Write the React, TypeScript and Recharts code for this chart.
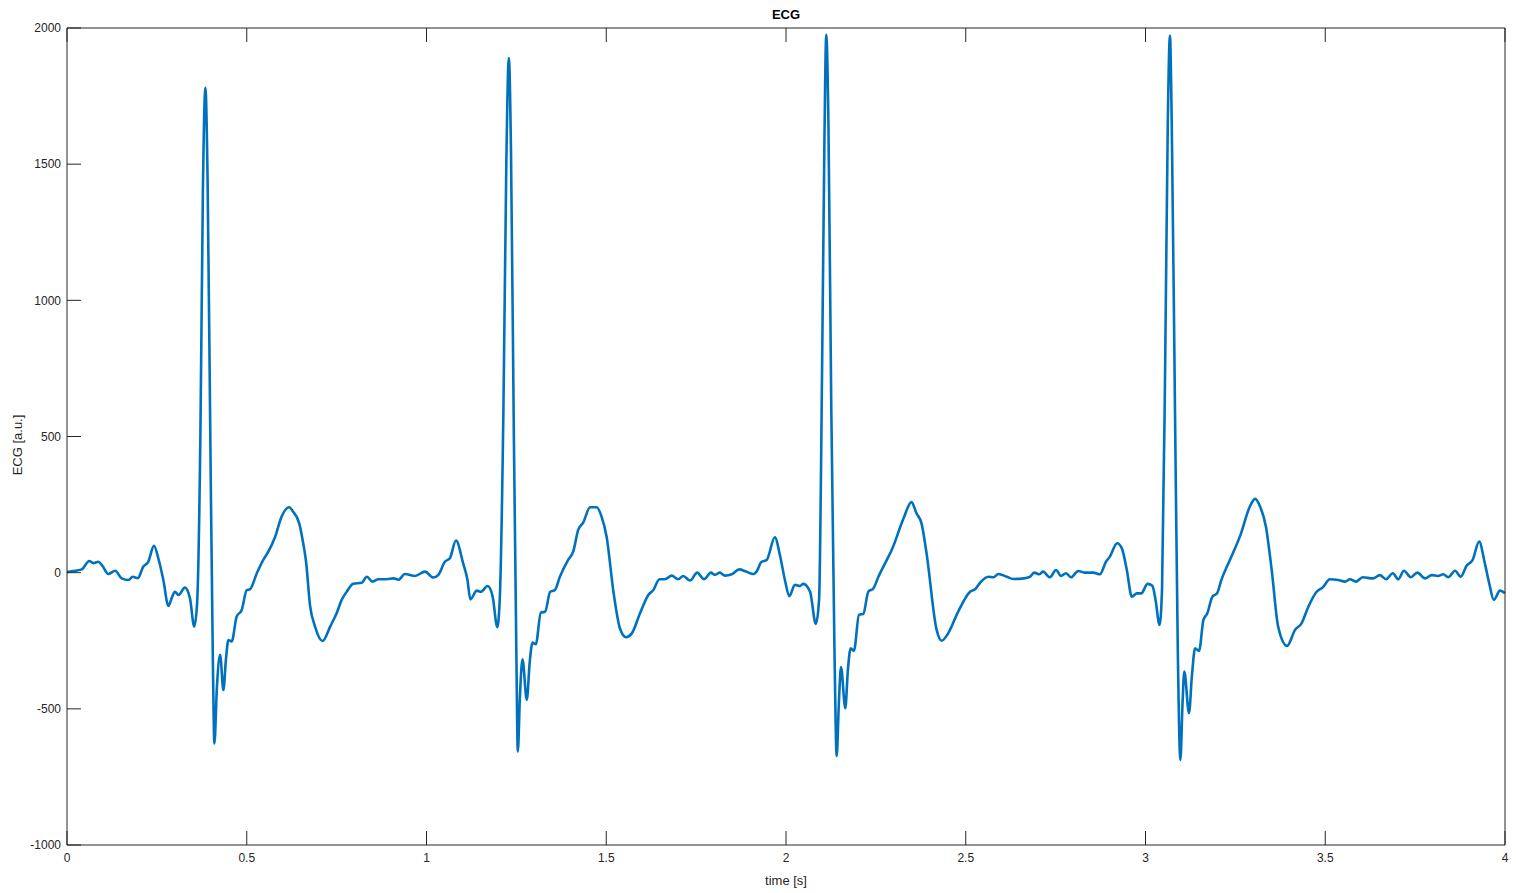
import React from 'react';
import { LineChart, Line, XAxis, YAxis } from 'recharts';

document.body.style.margin = '0';

// samples: time [s] and ECG [a.u.]
const timeS = [
  0, 0.022, 0.041, 0.062, 0.073, 0.087, 0.097, 0.115, 0.134, 0.152,
  0.171, 0.183, 0.197, 0.212, 0.226, 0.242, 0.254, 0.268, 0.282, 0.291,
  0.300, 0.310, 0.328, 0.342, 0.354, 0.362, 0.371, 0.378, 0.385, 0.391,
  0.399, 0.406, 0.410, 0.417, 0.426, 0.435, 0.442, 0.449, 0.458, 0.472,
  0.486, 0.500, 0.509, 0.528, 0.546, 0.560, 0.579, 0.597, 0.618, 0.629,
  0.646, 0.657, 0.665, 0.676, 0.690, 0.711, 0.732, 0.750, 0.764, 0.778,
  0.796, 0.820, 0.834, 0.850, 0.866, 0.889, 0.908, 0.922, 0.940, 0.968,
  0.996, 1.019, 1.033, 1.051, 1.065, 1.082, 1.102, 1.114, 1.122, 1.140,
  1.151, 1.170, 1.184, 1.197, 1.204, 1.214, 1.222, 1.229, 1.235, 1.243,
  1.250, 1.254, 1.260, 1.267, 1.279, 1.287, 1.295, 1.304, 1.318, 1.330,
  1.344, 1.357, 1.371, 1.394, 1.408, 1.422, 1.436, 1.455, 1.473, 1.487,
  1.501, 1.520, 1.538, 1.555, 1.571, 1.594, 1.617, 1.631, 1.648, 1.663,
  1.682, 1.700, 1.714, 1.733, 1.753, 1.772, 1.791, 1.802, 1.816, 1.830,
  1.849, 1.870, 1.889, 1.909, 1.918, 1.932, 1.946, 1.969, 1.983, 1.997,
  2.009, 2.025, 2.039, 2.048, 2.067, 2.083, 2.092, 2.100, 2.107, 2.112,
  2.118, 2.126, 2.135, 2.141, 2.147, 2.153, 2.165, 2.172, 2.180, 2.189,
  2.203, 2.215, 2.229, 2.243, 2.257, 2.285, 2.294, 2.326, 2.349, 2.363,
  2.377, 2.391, 2.419, 2.433, 2.451, 2.479, 2.512, 2.526, 2.540, 2.563,
  2.577, 2.591, 2.614, 2.632, 2.656, 2.679, 2.690, 2.705, 2.715, 2.734,
  2.751, 2.765, 2.779, 2.793, 2.813, 2.832, 2.855, 2.873, 2.890, 2.901,
  2.921, 2.934, 2.948, 2.962, 2.976, 2.988, 3.006, 3.019, 3.028, 3.039,
  3.046, 3.055, 3.062, 3.068, 3.073, 3.082, 3.090, 3.097, 3.103, 3.108,
  3.121, 3.129, 3.138, 3.149, 3.161, 3.172, 3.186, 3.199, 3.211, 3.239,
  3.264, 3.290, 3.305, 3.319, 3.335, 3.351, 3.369, 3.394, 3.416, 3.434,
  3.453, 3.476, 3.493, 3.513, 3.536, 3.555, 3.569, 3.585, 3.604, 3.633,
  3.652, 3.669, 3.688, 3.703, 3.719, 3.738, 3.756, 3.778, 3.796, 3.814,
  3.828, 3.842, 3.861, 3.877, 3.893, 3.910, 3.928, 3.944, 3.956, 3.969,
  3.986, 4.000,
];

const ecgAU = [
  2, 7, 12, 43, 35, 40, 28, -5, 7, -21,
  -27, -15, -20, 22, 40, 99, 53, -27, -122, -94,
  -70, -82, -55, -94, -198, -110, 500, 1400, 1780, 1450,
  450, -350, -627, -420, -302, -431, -320, -247, -253, -161,
  -137, -64, -61, -2, 47, 77, 132, 206, 240, 224,
  181, 108, 40, -120, -198, -251, -198, -149, -100, -70,
  -41, -37, -15, -33, -24, -24, -21, -26, -5, -12,
  4, -18, -8, 40, 53, 118, 34, -27, -98, -66,
  -70, -49, -88, -200, -90, 600, 1500, 1890, 1550, 500,
  -300, -657, -450, -318, -467, -330, -257, -263, -147, -143,
  -70, -64, -15, 47, 77, 157, 184, 240, 240, 206,
  132, -70, -204, -237, -223, -149, -82, -64, -24, -24,
  -11, -24, -12, -29, 0, -24, 0, -8, 0, -11,
  -6, 12, 4, -5, 4, 40, 46, 130, 65, -27,
  -86, -45, -49, -41, -70, -188, -100, 700, 1600, 1975,
  1650, 600, -300, -673, -480, -347, -498, -360, -278, -287,
  -155, -151, -70, -58, -15, 59, 83, 196, 259, 218,
  181, 71, -210, -250, -223, -143, -70, -61, -37, -15,
  -17, -5, -15, -23, -22, -15, 0, -6, 4, -17,
  10, -12, -2, -17, 6, 0, 0, -6, 40, 59,
  108, 90, 10, -88, -76, -76, -41, -48, -100, -192,
  -60, 800, 1650, 1972, 1650, 600, -300, -688, -480, -363,
  -516, -380, -278, -287, -174, -149, -88, -76, -27, 59,
  138, 242, 271, 242, 169, 10, -198, -269, -210, -186,
  -125, -70, -54, -24, -27, -33, -24, -33, -17, -21,
  -9, -24, -2, -24, 7, -17, 0, -21, -9, -12,
  -6, -17, 7, -15, 25, 47, 114, 34, -39, -100,
  -66, -76,
];

const xTicks = [0, 0.5, 1, 1.5, 2, 2.5, 3, 3.5, 4];
const yTicks = [-1000, -500, 0, 500, 1000, 1500, 2000];

const data = timeS.map((t, i) => ({ t, ecg: ecgAU[i] }));

const AXIS = '#262626';
const TICK_LEN = 14;
const GAP_X = 8;
const GAP_Y = 6;
const FONT = '"Liberation Sans", Arial, Helvetica, sans-serif';

// matlab style: tick marks point into the box, labels outside
const BottomTick = ({ x, y, payload }: any) => (
  <g>
    <line x1={x} x2={x} y1={y - GAP_X} y2={y - GAP_X - TICK_LEN} stroke={AXIS} />
    <text x={x} y={y} dy="0.71em" textAnchor="middle" fill={AXIS} fontSize={12} fontFamily={FONT}>
      {payload.value}
    </text>
  </g>
);

const LeftTick = ({ x, y, payload }: any) => (
  <g>
    <line x1={x + GAP_Y} x2={x + GAP_Y + TICK_LEN} y1={y} y2={y} stroke={AXIS} />
    <text x={x} y={y} dy="0.355em" textAnchor="end" fill={AXIS} fontSize={12} fontFamily={FONT}>
      {payload.value}
    </text>
  </g>
);

const TopTick = ({ x, y }: any) => <line x1={x} x2={x} y1={y} y2={y + TICK_LEN} stroke={AXIS} />;
const RightTick = ({ x, y }: any) => <line x1={x} x2={x - TICK_LEN} y1={y} y2={y} stroke={AXIS} />;

export default function App() {
  return (
    <div style={{ position: 'relative', width: 1516, height: 893, background: '#fff', fontFamily: FONT }}>
      <LineChart width={1516} height={893} data={data} margin={{ top: 27, right: 10, bottom: 18, left: 7 }}>
        <XAxis
          xAxisId="bottom"
          dataKey="t"
          type="number"
          domain={[0, 4]}
          ticks={xTicks}
          interval={0}
          height={30}
          tickSize={0}
          tickMargin={GAP_X}
          tickLine={false}
          axisLine={{ stroke: AXIS }}
          tick={(p: any) => <BottomTick {...p} />}
        />
        <XAxis
          xAxisId="top"
          orientation="top"
          dataKey="t"
          type="number"
          domain={[0, 4]}
          ticks={xTicks}
          interval={0}
          height={1}
          tickSize={0}
          tickMargin={0}
          tickLine={false}
          axisLine={{ stroke: AXIS }}
          tick={(p: any) => <TopTick {...p} />}
        />
        <YAxis
          yAxisId="left"
          type="number"
          domain={[-1000, 2000]}
          ticks={yTicks}
          interval={0}
          width={60}
          tickSize={0}
          tickMargin={GAP_Y}
          tickLine={false}
          axisLine={{ stroke: AXIS }}
          tick={(p: any) => <LeftTick {...p} />}
        />
        <YAxis
          yAxisId="right"
          orientation="right"
          type="number"
          domain={[-1000, 2000]}
          ticks={yTicks}
          interval={0}
          width={1}
          tickSize={0}
          tickMargin={0}
          tickLine={false}
          axisLine={{ stroke: AXIS }}
          tick={(p: any) => <RightTick {...p} />}
        />
        <Line
          xAxisId="bottom"
          yAxisId="left"
          type="monotone"
          dataKey="ecg"
          stroke="#0072BD"
          strokeWidth={2.6}
          dot={false}
          activeDot={false}
          isAnimationActive={false}
        />
      </LineChart>
      <div style={{ position: 'absolute', left: 786, top: 14, transform: 'translate(-50%, -50%)', fontSize: 13, fontWeight: 'bold', color: '#000' }}>
        ECG
      </div>
      <div style={{ position: 'absolute', left: 786, top: 880, transform: 'translate(-50%, -50%)', fontSize: 13, color: AXIS }}>
        time [s]
      </div>
      <div style={{ position: 'absolute', left: 17, top: 445, transform: 'translate(-50%, -50%) rotate(-90deg)', fontSize: 13, color: AXIS, whiteSpace: 'nowrap' }}>
        ECG [a.u.]
      </div>
    </div>
  );
}
